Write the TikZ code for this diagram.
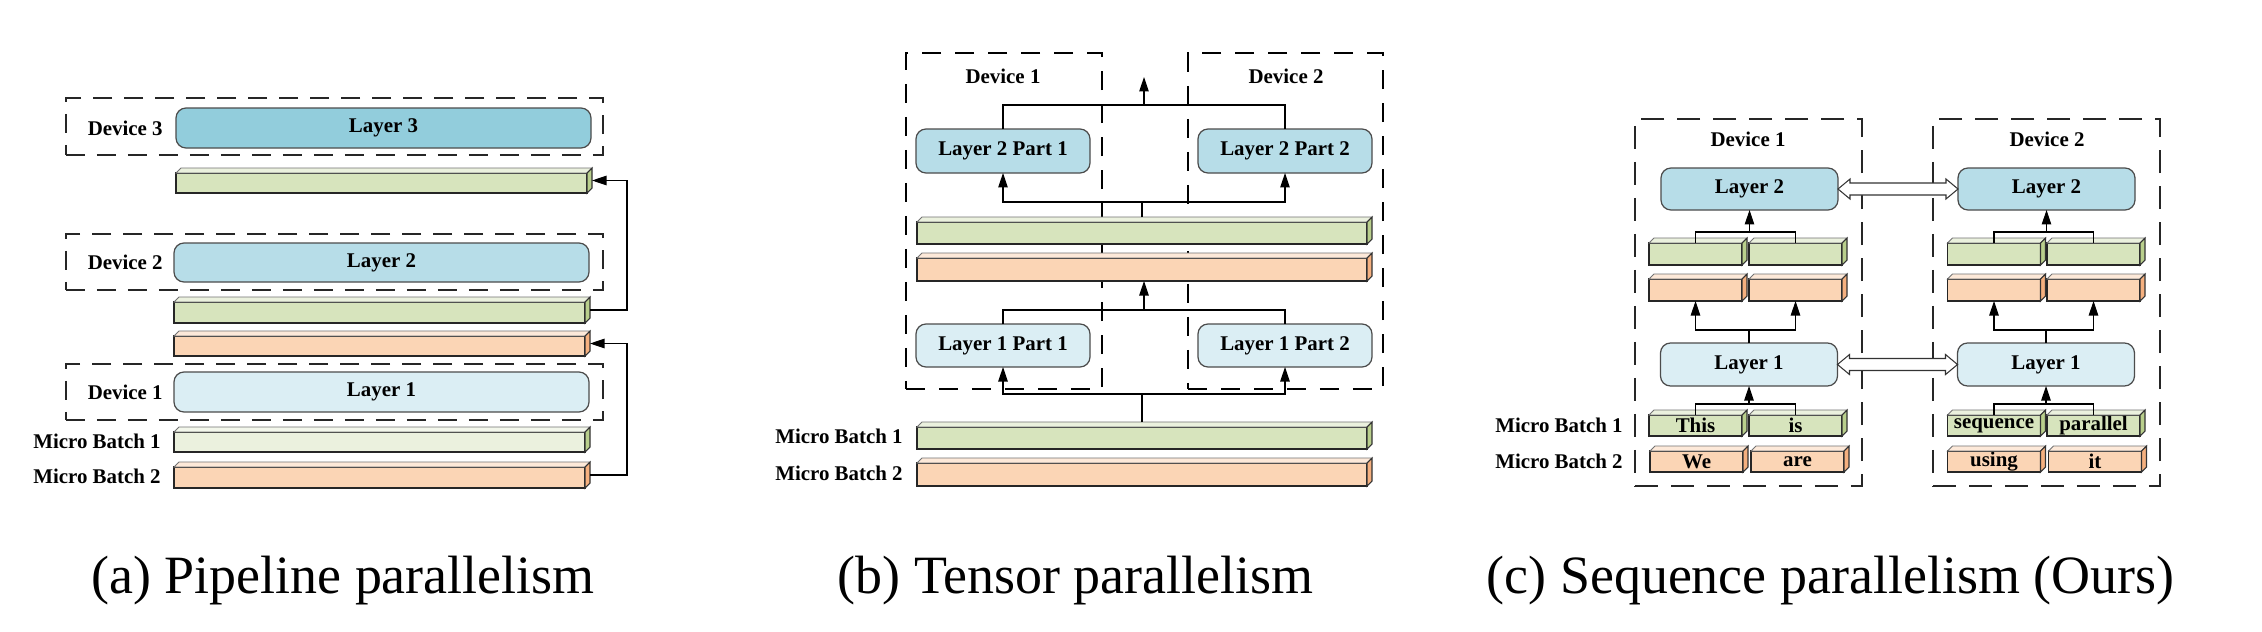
\documentclass[tikz,border=0pt]{standalone}
\usepackage{fontspec}
\setmainfont{Liberation Serif}
\usetikzlibrary{arrows.meta,calc}
\definecolor{gfront}{HTML}{D7E4BD}
\definecolor{gtop}{HTML}{EBF1DE}
\definecolor{gside}{HTML}{B9CF8C}
\definecolor{ofront}{HTML}{FBD5B5}
\definecolor{otop}{HTML}{FDE9D9}
\definecolor{oside}{HTML}{F5B07F}
\definecolor{layA}{HTML}{92CDDC}
\definecolor{layB}{HTML}{B7DDE8}
\definecolor{layC}{HTML}{DBEEF4}
\newcommand{\barfaces}[3]{%
  \filldraw[fill=#2,draw=black!55,line width=0.5pt] (#1.north west) -- ++(5,-5) -- ($(#1.north east)+(5,-5)$) -- (#1.north east) -- cycle;
  \filldraw[fill=#3,draw=black!80,line width=0.6pt] (#1.north east) -- ++(5,-5) -- ($(#1.south east)+(5,-5)$) -- (#1.south east) -- cycle;
}
\begin{document}
\begin{tikzpicture}[x=0.02cm,y=-0.02cm,
  sz/.style 2 args={minimum width=#1*0.02cm, minimum height=#2*0.02cm},
  lbl/.style={font=\bfseries\fontsize{11.9}{13}\selectfont, inner sep=0pt},
  captext/.style={font=\fontsize{30.7}{34}\selectfont, inner sep=0pt, anchor=base},
  layer/.style={draw=black!70, line width=0.7pt, rounded corners=0.2cm, inner sep=0pt, outer sep=0pt, font=\bfseries\fontsize{11.9}{13}\selectfont},
  barbox/.style={draw=black!85, line width=0.7pt, inner sep=0pt, outer sep=0pt, font=\bfseries\fontsize{11.9}{13}\selectfont},
  devthin/.style={draw=black!85, line width=0.6pt, dash pattern=on 0.38cm off 0.24cm, inner sep=0pt, outer sep=0pt},
  devthick/.style={draw=black, line width=1.3pt, dash pattern=on 0.38cm off 0.28cm, inner sep=0pt, outer sep=0pt},
  conn/.style={line width=0.6pt},
  arr/.style={conn, -{Triangle[length=0.29cm,width=0.19cm]}},
  hollow/.style={draw=black!80, fill=white, line width=0.6pt, line join=miter}]
\useasboundingbox (0,0) rectangle (2262,632);
\fill[white] (0,0) rectangle (2262,632);

% ---------------- (a) Pipeline parallelism ----------------
\node[devthin, sz={537}{57}] (a3dev) at (334.5,126.5) {};
\node[layer, fill=layA, sz={415}{40}] (a3) at (383.5,128) {Layer 3};
\node[lbl, anchor=east] (a3lab) at (163,128) {Device 3};
\node[barbox, fill=gfront, sz={411}{20}] (abar1) at (381.5,183) {};
\barfaces{abar1}{gtop}{gside}
\node[devthin, sz={537}{56}] (a2dev) at (334.5,262) {};
\node[layer, fill=layB, sz={415}{39}] (a2) at (381.5,262.5) {Layer 2};
\node[lbl, anchor=east] (a2lab) at (163,262) {Device 2};
\node[barbox, fill=gfront, sz={411}{21}] (abar2) at (379.5,312.5) {};
\barfaces{abar2}{gtop}{gside}
\node[barbox, fill=ofront, sz={411}{20}] (abar3) at (379.5,346) {};
\barfaces{abar3}{otop}{oside}
\node[devthin, sz={537}{56}] (a1dev) at (334.5,392) {};
\node[layer, fill=layC, sz={415}{40}] (a1) at (381.5,392) {Layer 1};
\node[lbl, anchor=east] (a1lab) at (163,392) {Device 1};
\node[barbox, fill=gtop, sz={411}{20}] (amb1) at (379.5,442) {};
\barfaces{amb1}{gtop!60}{gside}
\node[barbox, fill=ofront, sz={411}{21}] (amb2) at (379.5,477.5) {};
\barfaces{amb2}{otop}{oside}
\node[lbl, anchor=east] (amb1lab) at (161,441) {Micro Batch 1};
\node[lbl, anchor=east] (amb2lab) at (161,476) {Micro Batch 2};
\coordinate (abar1s) at ($(abar1.east)+(5,-2.5)$);
\coordinate (abar2s) at ($(abar2.east)+(5,-2.5)$);
\coordinate (abar3s) at ($(abar3.east)+(5,-2.5)$);
\coordinate (amb2s) at ($(amb2.east)+(5,-2.5)$);
\draw[arr] (abar2s) -- ++(37,0) |- (abar1s);
\draw[arr] (amb2s) -- ++(37,0) |- (abar3s);
\node[captext] (capa) at (343,593) {(a) Pipeline parallelism};

% ---------------- (b) Tensor parallelism ----------------
\node[devthick, sz={196}{336}] (bd1) at (1004,221) {};
\node[devthick, sz={195}{336}] (bd2) at (1285.5,221) {};
\node[lbl] (bd1lab) at (1003,76) {Device 1};
\node[lbl] (bd2lab) at (1286,76) {Device 2};
\node[layer, fill=layB, sz={174}{44}] (b2a) at (1003,151) {Layer 2 Part 1};
\node[layer, fill=layB, sz={174}{44}] (b2b) at (1285,151) {Layer 2 Part 2};
\node[barbox, fill=gfront, sz={450}{22}] (bg) at (1142,233) {};
\barfaces{bg}{gtop}{gside}
\node[barbox, fill=ofront, sz={450}{23}] (bo) at (1142,269.5) {};
\barfaces{bo}{otop}{oside}
\node[layer, fill=layC, sz={174}{43}] (b1a) at (1003,345.5) {Layer 1 Part 1};
\node[layer, fill=layC, sz={174}{43}] (b1b) at (1285,345.5) {Layer 1 Part 2};
\node[barbox, fill=gfront, sz={450}{22}] (bmb1) at (1142,438) {};
\barfaces{bmb1}{gtop}{gside}
\node[barbox, fill=ofront, sz={450}{23}] (bmb2) at (1142,474.5) {};
\barfaces{bmb2}{otop}{oside}
\node[lbl, anchor=east] (bmb1lab) at (903,436) {Micro Batch 1};
\node[lbl, anchor=east] (bmb2lab) at (903,473) {Micro Batch 2};
% connectors
\draw[conn] (b2a.north) -- ++(0,-24) -| (b2b.north);
\coordinate (btop) at ($(b2a.north)!0.5!(b2b.north)+(0,-24)$);
\coordinate (btip) at ($(btop)+(0,-28)$);
\draw[arr] (btop) -- (btip);
\coordinate (bgt) at ($(bg.north)+(0,-5)$);
\coordinate (bgj) at ($(bg.north)+(0,-20)$);
\draw[conn] (bgt) -- (bgj);
\draw[arr] (bgj) -| (b2a.south);
\draw[arr] (bgj) -| (b2b.south);
\draw[conn] (b1a.north) -- ++(0,-14) -| (b1b.north);
\coordinate (b1j) at ($(b1a.north)!0.5!(b1b.north)+(0,-14)$);
\draw[arr] (b1j) -- (b1j |- bo.south);
\coordinate (bmt) at ($(bmb1.north)+(0,-5)$);
\coordinate (bmj) at ($(bmb1.north)+(0,-33)$);
\draw[conn] (bmt) -- (bmj);
\draw[arr] (bmj) -| (b1a.south);
\draw[arr] (bmj) -| (b1b.south);
\node[captext] (capb) at (1075.5,593) {(b) Tensor parallelism};

% ---------------- (c) Sequence parallelism ----------------
\node[devthin, dash pattern=on 0.46cm off 0.26cm, sz={227}{367}] (cd1) at (1748.5,302.5) {};
\node[devthin, dash pattern=on 0.46cm off 0.26cm, sz={227}{367}] (cd2) at (2046.5,302.5) {};
\node[lbl] (cd1lab) at (1748,139) {Device 1};
\node[lbl] (cd2lab) at (2047,139) {Device 2};
\node[layer, fill=layB, sz={177}{42}] (cL2a) at (1749.5,189) {Layer 2};
\node[layer, fill=layB, sz={177}{42}] (cL2b) at (2046.5,189) {Layer 2};
\foreach \n/\x in {cga/1695.5, cgb/1795.5, cgc/1994, cgd/2093.5}{
  \node[barbox, fill=gfront, sz={93}{22}] (\n) at (\x,254) {};
  \barfaces{\n}{gtop}{gside}
}
\foreach \n/\x in {coa/1695.5, cob/1795.5, coc/1994, cod/2093.5}{
  \node[barbox, fill=ofront, sz={93}{22}] (\n) at (\x,290) {};
  \barfaces{\n}{otop}{oside}
}
\node[layer, fill=layC, sz={177}{43}] (cL1a) at (1749,364.5) {Layer 1};
\node[layer, fill=layC, sz={177}{43}] (cL1b) at (2046,364.5) {Layer 1};
\foreach \n/\x/\t in {cma/1695.5/This, cmb/1795.5/is, cmc/1994/sequence, cmd/2093.5/parallel}{
  \node[barbox, fill=gfront, sz={93}{21}] (\n) at (\x,425.5) {\t};
  \barfaces{\n}{gtop}{gside}
}
\foreach \n/\x/\t in {cna/1696.5/We, cnb/1797.5/are, cnc/1994/using, cnd/2095/it}{
  \node[barbox, fill=ofront, sz={93}{21}] (\n) at (\x,461.5) {\t};
  \barfaces{\n}{otop}{oside}
}
\node[lbl, anchor=east] (cmb1lab) at (1623,425) {Micro Batch 1};
\node[lbl, anchor=east] (cmb2lab) at (1623,461) {Micro Batch 2};
% connectors device 1
\draw[conn] (cma.north) -- ++(0,-11) -| (cmb.north);
\coordinate (cmat) at ($(cma.north)+(0,-11)$);
\draw[arr] (cL1a.south |- cmat) -- (cL1a.south);
\coordinate (c1u) at ($(cL1a.north)+(0,-13)$);
\draw[conn] (cL1a.north) -- (c1u);
\draw[arr] (c1u) -| (coa.south);
\draw[arr] (c1u) -| (cob.south);
\draw[conn] (cga.north) -- ++(0,-11) -| (cgb.north);
\coordinate (cgat) at ($(cga.north)+(0,-11)$);
\draw[arr] (cL2a.south |- cgat) -- (cL2a.south);
% connectors device 2
\draw[conn] (cmc.north) -- ++(0,-11) -| (cmd.north);
\coordinate (cmct) at ($(cmc.north)+(0,-11)$);
\draw[arr] (cL1b.south |- cmct) -- (cL1b.south);
\coordinate (c2u) at ($(cL1b.north)+(0,-13)$);
\draw[conn] (cL1b.north) -- (c2u);
\draw[arr] (c2u) -| (coc.south);
\draw[arr] (c2u) -| (cod.south);
\draw[conn] (cgc.north) -- ++(0,-11) -| (cgd.north);
\coordinate (cgct) at ($(cgc.north)+(0,-11)$);
\draw[arr] (cL2b.south |- cgct) -- (cL2b.south);
% hollow double arrows
\draw[hollow] (cL2a.east) -- ++(12,-10) -- ++(0,4) -- ($(cL2b.west)+(-12,-6)$) -- ++(0,-4) -- (cL2b.west) -- ++(-12,10) -- ++(0,-4) -- ($(cL2a.east)+(12,6)$) -- ++(0,4) -- cycle;
\draw[hollow] (cL1a.east) -- ++(12,-10) -- ++(0,4) -- ($(cL1b.west)+(-12,-6)$) -- ++(0,-4) -- (cL1b.west) -- ++(-12,10) -- ++(0,-4) -- ($(cL1a.east)+(12,6)$) -- ++(0,4) -- cycle;
\node[captext] (capc) at (1830.5,593) {(c) Sequence parallelism (Ours)};
\end{tikzpicture}
\end{document}
